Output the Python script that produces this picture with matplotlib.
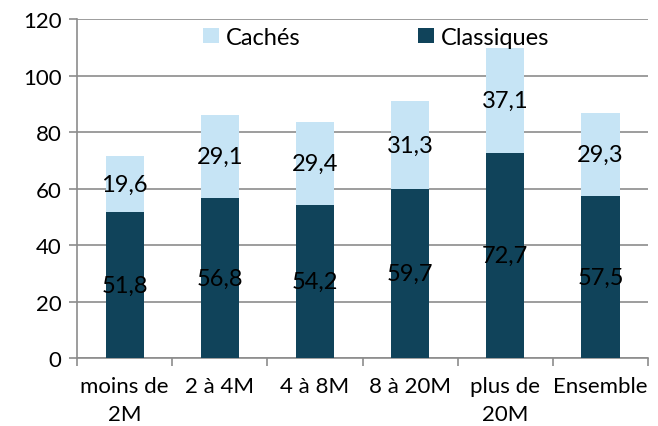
import numpy as np
import matplotlib
matplotlib.use("Agg")
import matplotlib.pyplot as plt

categories = ["moins de\n2M", "2 à 4M", "4 à 8M", "8 à 20M", "plus de\n20M", "Ensemble"]
classiques = [51.8, 56.8, 54.2, 59.7, 72.7, 57.5]
caches = [19.6, 29.1, 29.4, 31.3, 37.1, 29.3]

dark = "#10435a"
light = "#c6e4f5"
grey = "#8c8c8c"

plt.rcParams['font.family'] = ['Lato', 'DejaVu Sans']

fig = plt.figure(figsize=(6.58, 4.27), dpi=100)
ax = fig.add_axes([0.117, 0.159, 0.868, 0.794])

x = np.arange(len(categories))
b1 = ax.bar(x, classiques, width=0.4, color=dark, label="Classiques", zorder=3)
b2 = ax.bar(x, caches, width=0.4, bottom=classiques, color=light, label="Cachés", zorder=3)

# value labels centred in each segment
for i in range(len(x)):
    ax.text(x[i], classiques[i] / 2, f"{classiques[i]:.1f}".replace(".", ","),
            ha="center", va="center", fontsize=17, zorder=4)
    ax.text(x[i], classiques[i] + caches[i] / 2, f"{caches[i]:.1f}".replace(".", ","),
            ha="center", va="center", fontsize=17, zorder=4)

ax.set_xlim(-0.5, len(x) - 0.5)
ax.set_ylim(0, 120)
ax.set_yticks(range(0, 121, 20))
ax.yaxis.grid(True, color=grey, linewidth=1.2, zorder=0)

ax.set_xticks(x)
ax.set_xticklabels(categories, fontsize=16, linespacing=1.5, va="top")
ax.set_xticks(np.arange(-0.5, len(x), 1), minor=True)
ax.tick_params(axis="x", which="major", length=0, pad=13)
ax.tick_params(axis="x", which="minor", length=6, color=grey, width=1.2)
ax.tick_params(axis="y", length=6, color=grey, width=1.2, labelsize=16, pad=5)

for s in ["top", "right"]:
    ax.spines[s].set_visible(False)
for s in ["left", "bottom"]:
    ax.spines[s].set_color(grey)
    ax.spines[s].set_linewidth(1.2)

handles = [b2, b1]
ax.legend(handles, ["Cachés", "Classiques"], loc="upper center", ncol=2, frameon=False,
          fontsize=17, handlelength=0.65, handleheight=0.65, handletextpad=0.3,
          columnspacing=5.0, bbox_to_anchor=(0.524, 1.04))

fig.savefig("out.png", dpi=100)
